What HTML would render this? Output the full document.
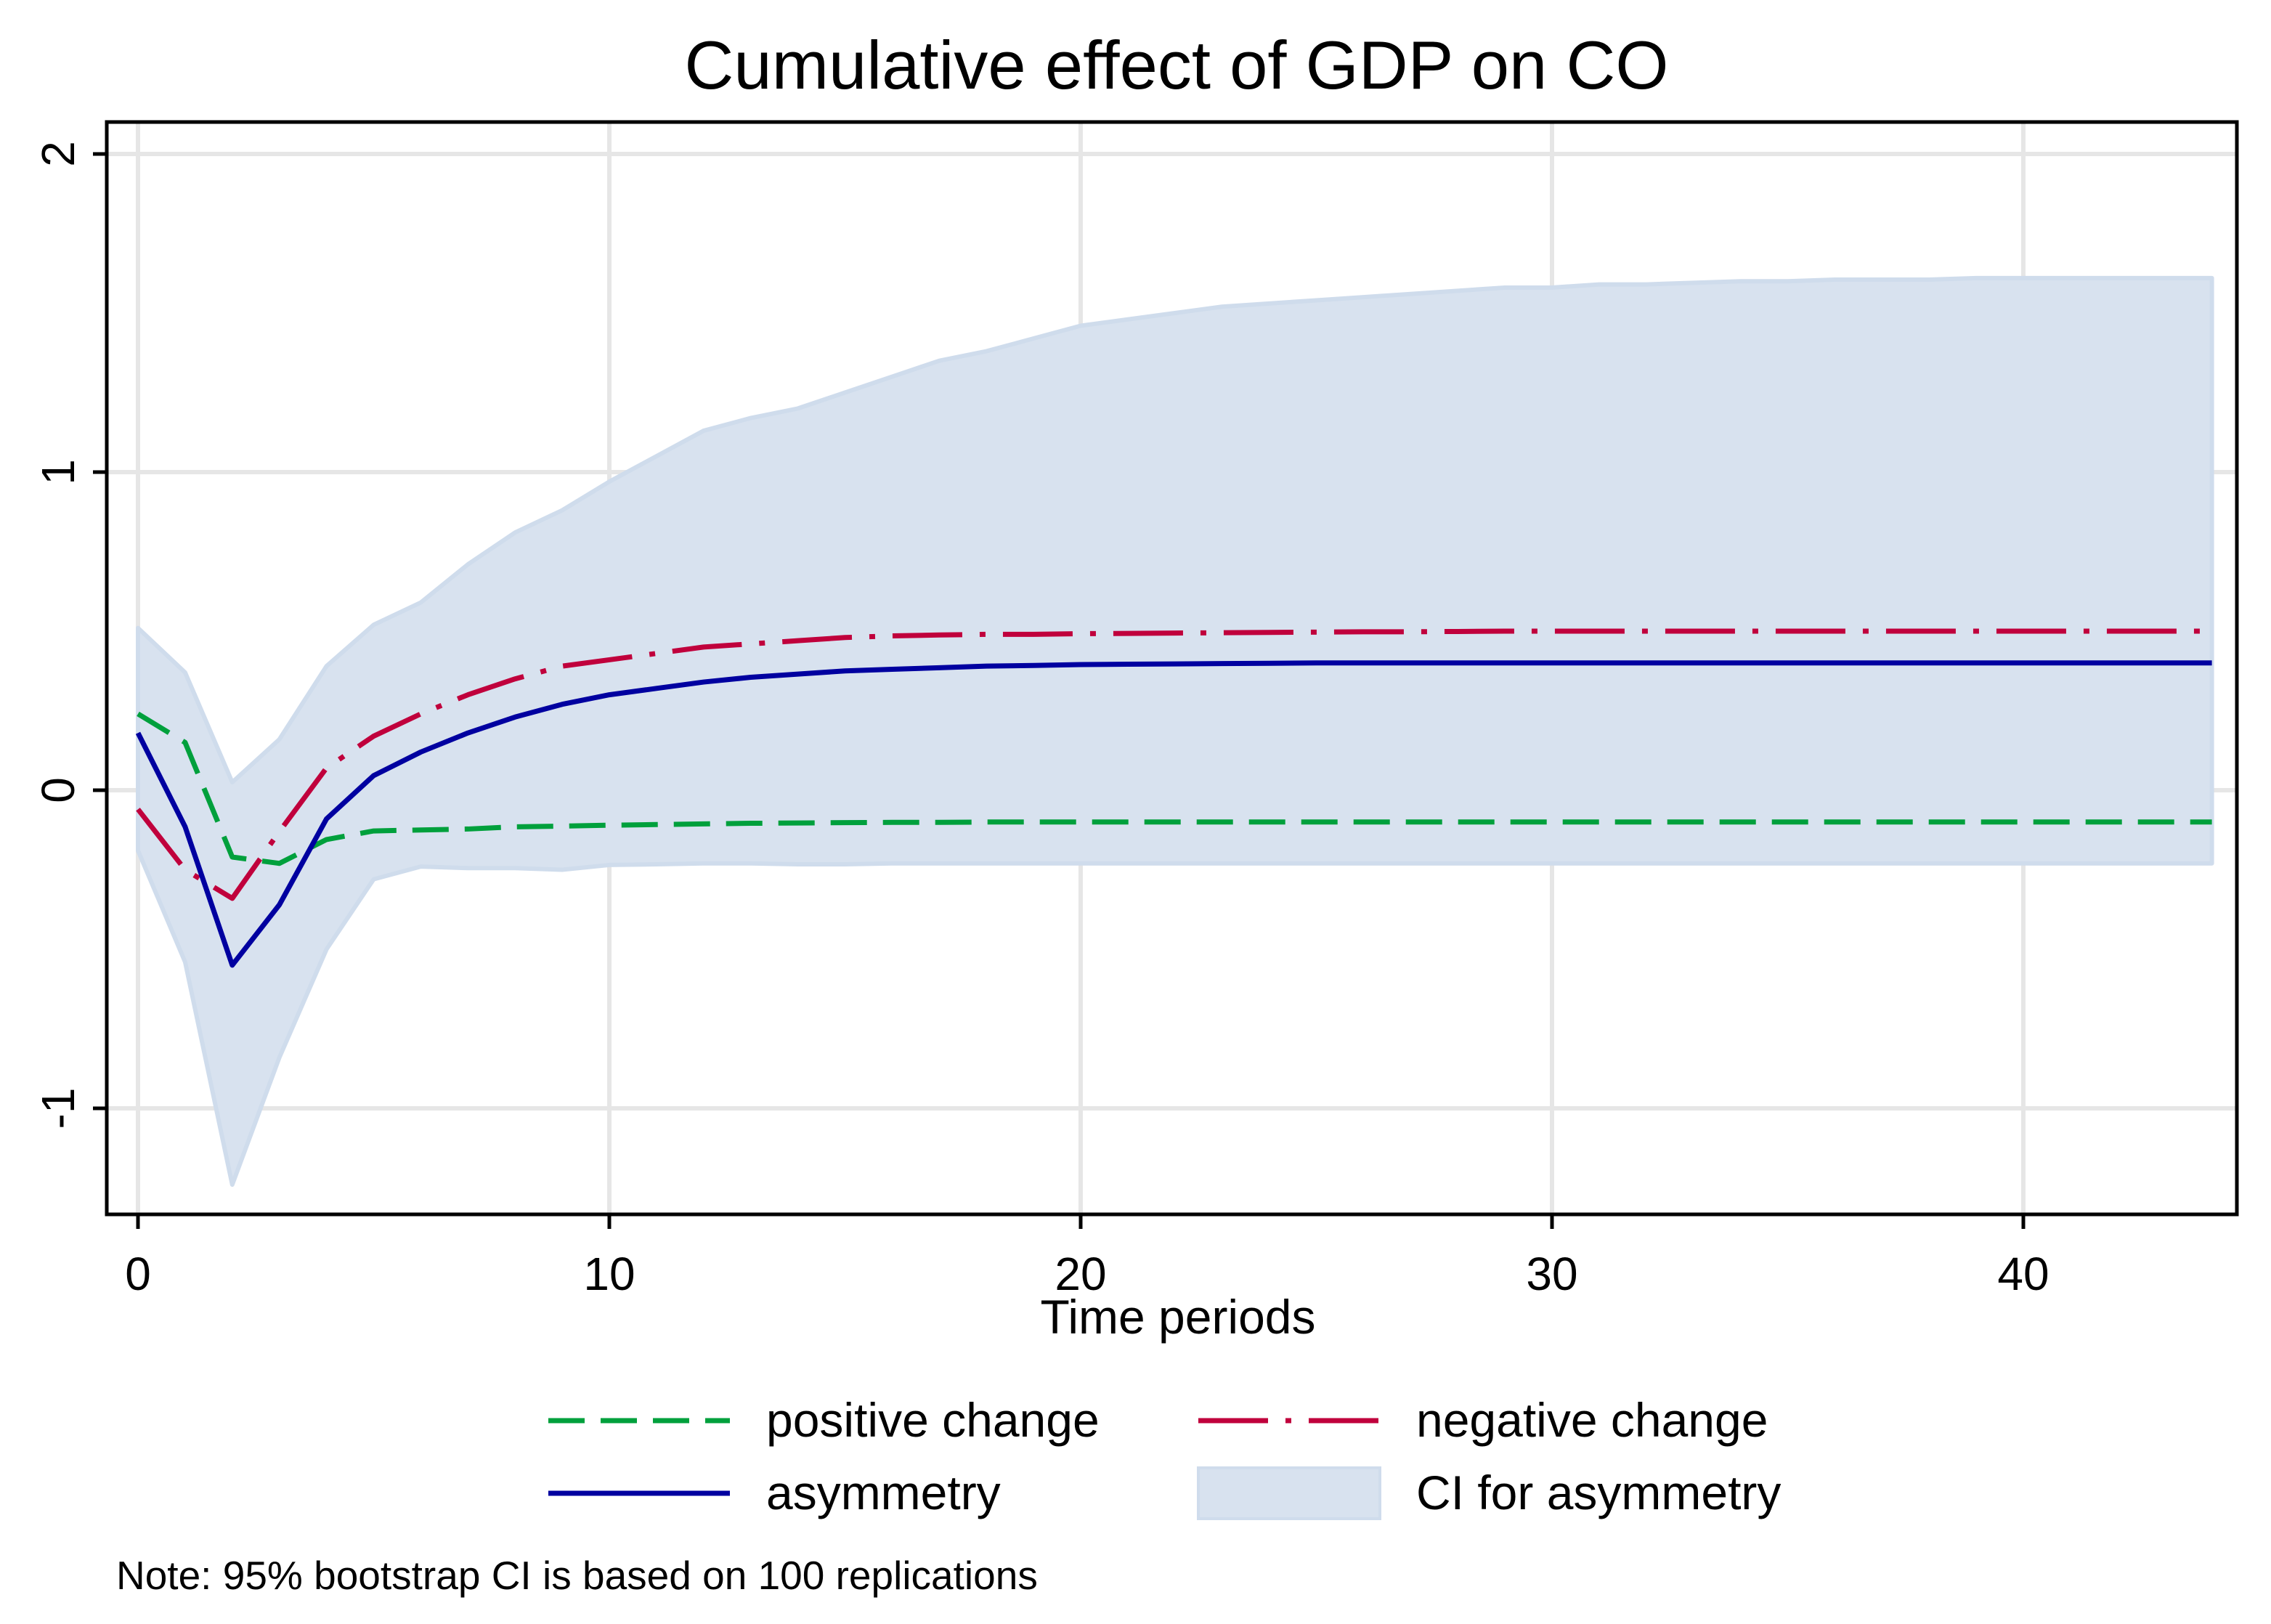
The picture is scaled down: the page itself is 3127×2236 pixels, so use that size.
<!DOCTYPE html>
<html><head><meta charset="utf-8"><style>
html,body{margin:0;padding:0;background:#fff;}
svg{display:block;font-family:"Liberation Sans",Arial,sans-serif;}
</style></head><body>
<svg id="chart" width="3127" height="2236" viewBox="0 0 3127 2236">
<rect x="0" y="0" width="3127" height="2236" fill="#fff"/>
<text x="1620" y="122" font-size="94" text-anchor="middle" fill="#000">Cumulative effect of GDP on CO</text>
<g id="grid"></g>
<g id="marks"></g>
<rect x="147" y="168" width="2933" height="1504" fill="none" stroke="#000" stroke-width="5"/>
<g id="axes"></g>
<text x="1622" y="1836" font-size="66" text-anchor="middle">Time periods</text>
<g>
<line x1="755" y1="1956" x2="1005" y2="1956" stroke="#00a03c" stroke-width="7" stroke-dasharray="50 22"/>
<text x="1055" y="1978" font-size="66">positive change</text>
<line x1="1650" y1="1956" x2="1900" y2="1956" stroke="#c0003c" stroke-width="7" stroke-dasharray="96 24 8 24"/>
<text x="1950" y="1978" font-size="66">negative change</text>
<line x1="755" y1="2056" x2="1005" y2="2056" stroke="#0000a0" stroke-width="7"/>
<text x="1055" y="2078" font-size="66">asymmetry</text>
<rect x="1650" y="2021" width="250" height="70" fill="#d8e2ef" stroke="#cfdcec" stroke-width="4"/>
<text x="1950" y="2078" font-size="66">CI for asymmetry</text>
</g>
<text x="160" y="2188" font-size="55">Note: 95% bootstrap CI is based on 100 replications</text>
</svg>
<script>
const periods = [0,1,2,3,4,5,6,7,8,9,10,11,12,13,14,15,16,17,18,19,20,21,22,23,24,25,26,27,28,29,30,31,32,33,34,35,36,37,38,39,40,41,42,43,44];
const asymmetry = [0.18,-0.115,-0.55,-0.36,-0.09,0.046,0.12,0.18,0.23,0.27,0.30,0.32,0.34,0.355,0.365,0.375,0.38,0.385,0.39,0.392,0.395,0.396,0.397,0.398,0.399,0.4,0.4,0.4,0.4,0.4,0.4,0.4,0.4,0.4,0.4,0.4,0.4,0.4,0.4,0.4,0.4,0.4,0.4,0.4,0.4];
const positiveChange = [0.24,0.15,-0.21,-0.23,-0.155,-0.128,-0.125,-0.122,-0.115,-0.113,-0.11,-0.108,-0.106,-0.104,-0.103,-0.102,-0.101,-0.101,-0.1,-0.1,-0.1,-0.1,-0.1,-0.1,-0.1,-0.1,-0.1,-0.1,-0.1,-0.1,-0.1,-0.1,-0.1,-0.1,-0.1,-0.1,-0.1,-0.1,-0.1,-0.1,-0.1,-0.1,-0.1,-0.1,-0.1];
const negativeChange = [-0.06,-0.25,-0.34,-0.13,0.07,0.17,0.24,0.30,0.35,0.39,0.41,0.43,0.45,0.46,0.47,0.48,0.485,0.488,0.49,0.49,0.492,0.493,0.494,0.495,0.496,0.497,0.498,0.498,0.499,0.5,0.5,0.5,0.5,0.5,0.5,0.5,0.5,0.5,0.5,0.5,0.5,0.5,0.5,0.5,0.5];
const ciUpper = [0.51,0.37,0.025,0.16,0.39,0.52,0.59,0.71,0.81,0.88,0.97,1.05,1.13,1.17,1.20,1.25,1.30,1.35,1.38,1.42,1.46,1.48,1.50,1.52,1.53,1.54,1.55,1.56,1.57,1.58,1.58,1.59,1.59,1.595,1.6,1.6,1.605,1.605,1.605,1.61,1.61,1.61,1.61,1.61,1.61];
const ciLower = [-0.19,-0.54,-1.24,-0.84,-0.50,-0.28,-0.24,-0.245,-0.245,-0.25,-0.235,-0.233,-0.23,-0.23,-0.233,-0.233,-0.23,-0.23,-0.23,-0.23,-0.23,-0.23,-0.23,-0.23,-0.23,-0.23,-0.23,-0.23,-0.23,-0.23,-0.23,-0.23,-0.23,-0.23,-0.23,-0.23,-0.23,-0.23,-0.23,-0.23,-0.23,-0.23,-0.23,-0.23,-0.23];
const xTicks = [0,10,20,30,40];
const yTicks = [-1,0,1,2];

const NS = "http://www.w3.org/2000/svg";
function xs(v){ return 190 + v*64.9; }
function ys(v){ return 1088 - v*438; }
function mk(tag, attrs, parent){
  const e = document.createElementNS(NS, tag);
  for (const k in attrs) e.setAttribute(k, attrs[k]);
  parent.appendChild(e); return e;
}
const grid = document.getElementById('grid');
const marks = document.getElementById('marks');
const axes = document.getElementById('axes');

yTicks.forEach(t => {
  const l = mk('line', {x1:147, x2:3080, y1:ys(t), y2:ys(t), stroke:'#e6e6e6', 'stroke-width':6}, grid);
  
  
  const tk = mk('line', {x1:128, x2:147, y1:ys(t), y2:ys(t), stroke:'#000', 'stroke-width':5}, axes);
  
  
  const tx = mk('text', {x:0, y:0, 'font-size':64, 'text-anchor':'middle', transform:`translate(102,${ys(t)}) rotate(-90)`}, axes);
  tx.textContent = String(t);
  
  
});
xTicks.forEach(t => {
  const l = mk('line', {x1:xs(t), x2:xs(t), y1:168, y2:1672, stroke:'#e6e6e6', 'stroke-width':6}, grid);
  
  
  const tk = mk('line', {x1:xs(t), x2:xs(t), y1:1672, y2:1692, stroke:'#000', 'stroke-width':5}, axes);
  
  
  const tx = mk('text', {x:xs(t), y:1776, 'font-size':64, 'text-anchor':'middle'}, axes);
  tx.textContent = String(t);
  
  
});

let d = periods.map((p,i)=>(i?'L':'M')+xs(p)+','+ys(ciUpper[i])).join(' ');
for (let i=periods.length-1;i>=0;i--) d += ' L'+xs(periods[i])+','+ys(ciLower[i]);
const band = mk('path', {d:d+' Z', fill:'#d8e2ef', stroke:'#cfdcec', 'stroke-width':6, 'stroke-linejoin':'round'}, marks);



function line(vals, color, dash, name){
  const pts = periods.map((p,i)=>xs(p)+','+ys(vals[i])).join(' ');
  const a = {points:pts, fill:'none', stroke:color, 'stroke-width':7, 'stroke-linejoin':'round'};
  if (dash) a['stroke-dasharray'] = dash;
  const e = mk('polyline', a, marks);
  
  
}
line(positiveChange, '#00a03c', '50 22', 'positive-change-line');
line(negativeChange, '#c0003c', '96 24 8 24', 'negative-change-line');
line(asymmetry, '#0000a0', null, 'asymmetry-line');
</script>
</body></html>
